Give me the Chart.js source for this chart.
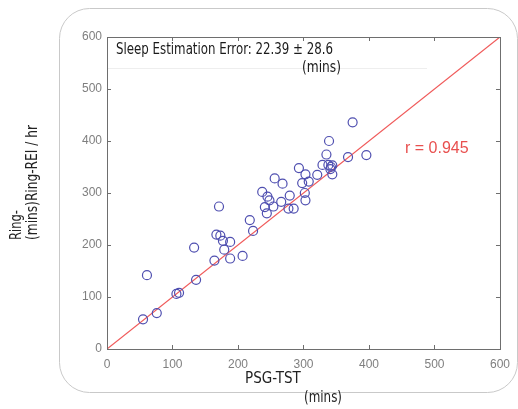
<!DOCTYPE html>
<html>
<head>
<meta charset="utf-8">
<script src="https://cdn.jsdelivr.net/npm/chart.js@4"></script>
<style>
  html, body { margin: 0; padding: 0; background: #fff; }
  #wrap { width: 518px; height: 409px; }
</style>
</head>
<body>
<div id="wrap"><canvas id="tst-chart" width="518" height="409"></canvas></div>
<script>
// PSG total sleep time vs ring estimate (mins)
const psgTST = [55, 76, 106, 110, 61, 136, 133, 164, 171, 167, 173, 177, 188, 179, 188, 207,
  218, 223, 237, 245, 248, 241, 244, 254, 266, 256, 268, 279, 277, 285, 293, 303, 298, 308,
  302, 303, 321, 329, 335, 339, 338, 342, 344, 344, 341, 368, 375, 396];
const ringTST = [57, 69, 106, 108, 142, 133, 195, 170, 274, 220, 218, 208, 206, 191, 174, 179,
  248, 227, 302, 293, 286, 273, 261, 274, 283, 328, 318, 295, 270, 270, 348, 336, 319, 322,
  300, 286, 335, 354, 374, 400, 354, 350, 353, 336, 346, 369, 436, 373];
const identityLine = [0, 600];
const axisTicks = [0, 100, 200, 300, 400, 500, 600];

const titleText = 'Sleep Estimation Error: 22.39 \u00b1 28.6';
const titleUnit = '(mins)';
const rText = 'r = 0.945';
const xTitle = 'PSG-TST';
const yTitle1 = 'Ring-';
const yTitle2 = '(mins)Ring-REI / hr';

const narrow = '"Liberation Sans Narrow", "DejaVu Sans Condensed", sans-serif';

const points = psgTST.map((x, i) => ({ x: x, y: ringTST[i] }));
const linePts = identityLine.map((v) => ({ x: v, y: v }));

function roundRect(ctx, x, y, w, h, r) {
  ctx.beginPath();
  ctx.moveTo(x + r, y);
  ctx.lineTo(x + w - r, y);
  ctx.arcTo(x + w, y, x + w, y + r, r);
  ctx.lineTo(x + w, y + h - r);
  ctx.arcTo(x + w, y + h, x + w - r, y + h, r);
  ctx.lineTo(x + r, y + h);
  ctx.arcTo(x, y + h, x, y + h - r, r);
  ctx.lineTo(x, y + r);
  ctx.arcTo(x, y, x + r, y, r);
  ctx.closePath();
}

// draw left-aligned text squeezed to a given width
function fitText(ctx, text, x, y, width) {
  const w = ctx.measureText(text).width;
  const k = Math.min(1, width / w);
  ctx.save();
  ctx.translate(x, y);
  ctx.scale(k, 1);
  ctx.textAlign = 'left';
  ctx.fillText(text, 0, 0);
  ctx.restore();
}

const decorations = {
  id: 'decorations',
  beforeDraw(chart) {
    const ctx = chart.ctx;
    ctx.save();
    ctx.strokeStyle = '#c9c9c9';
    ctx.lineWidth = 1;
    roundRect(ctx, 59.5, 8.5, 458, 384, 30);
    ctx.stroke();
    ctx.restore();
  },
  afterDatasetsDraw(chart) {
    const ctx = chart.ctx;
    const a = chart.chartArea;
    const xs = chart.scales.x;
    const ys = chart.scales.y;
    ctx.save();

    // faint box behind the error text
    ctx.strokeStyle = '#eeeeee';
    ctx.beginPath();
    ctx.moveTo(a.left, 68.5);
    ctx.lineTo(427, 68.5);
    ctx.stroke();

    // axes box and inward ticks
    ctx.strokeStyle = '#6e6e6e';
    ctx.lineWidth = 1;
    ctx.strokeRect(a.left + 0.5, a.top + 0.5, a.right - a.left, a.bottom - a.top);
    ctx.beginPath();
    axisTicks.forEach((t) => {
      const px = Math.round(xs.getPixelForValue(t)) + 0.5;
      const py = Math.round(ys.getPixelForValue(t)) + 0.5;
      ctx.moveTo(px, a.bottom); ctx.lineTo(px, a.bottom - 4);
      ctx.moveTo(px, a.top); ctx.lineTo(px, a.top + 4);
      ctx.moveTo(a.left, py); ctx.lineTo(a.left + 4, py);
      ctx.moveTo(a.right, py); ctx.lineTo(a.right - 4, py);
    });
    ctx.stroke();

    // error text
    ctx.fillStyle = '#1a1a1a';
    ctx.font = '15px ' + narrow;
    ctx.textBaseline = 'middle';
    fitText(ctx, titleText, 116, 50, 217);
    fitText(ctx, titleUnit, 302, 68, 39);

    // r value
    ctx.fillStyle = '#e8504f';
    ctx.font = '16px "Liberation Sans", Arial, sans-serif';
    ctx.textAlign = 'left';
    ctx.fillText(rText, 405, 149);

    // axis titles
    ctx.fillStyle = '#222';
    ctx.font = '15px ' + narrow;
    fitText(ctx, xTitle, 245, 379, 58);
    fitText(ctx, titleUnit, 304, 398, 38);

    ctx.translate(0, 240);
    ctx.rotate(-Math.PI / 2);
    fitText(ctx, yTitle1, 0, 17, 30);
    fitText(ctx, yTitle2, 0, 33, 115);
    ctx.restore();
  },
};

const tickFont = { family: '"Liberation Sans", Arial, sans-serif', size: 12 };

new Chart(document.getElementById('tst-chart').getContext('2d'), {
  type: 'scatter',
  data: {
    datasets: [
      {
        label: 'Ring vs PSG',
        data: points,
        pointStyle: 'circle',
        pointRadius: 4.5,
        pointBorderWidth: 1.2,
        borderColor: '#4f4fb0',
        backgroundColor: 'rgba(0,0,0,0)',
        order: 1,
      },
      {
        type: 'line',
        label: 'y = x',
        data: linePts,
        borderColor: '#f05a5a',
        borderWidth: 1.2,
        pointRadius: 0,
        fill: false,
        order: 2,
      },
    ],
  },
  options: {
    responsive: false,
    animation: false,
    layout: { padding: { top: 37, right: 14, left: 0, bottom: 0 } },
    plugins: {
      legend: { display: false },
      tooltip: { enabled: false },
    },
    scales: {
      x: {
        type: 'linear',
        min: 0,
        max: 600,
        afterFit: (scale) => { scale.height = 60; },
        afterBuildTicks: (scale) => { scale.ticks = axisTicks.map((v) => ({ value: v })); },
        grid: { display: false, drawTicks: false },
        border: { display: false },
        ticks: { font: tickFont, color: '#7f7f7f', padding: 8, maxRotation: 0 },
      },
      y: {
        type: 'linear',
        min: 0,
        max: 600,
        afterFit: (scale) => { scale.width = 107; },
        afterBuildTicks: (scale) => { scale.ticks = axisTicks.map((v) => ({ value: v })); },
        grid: { display: false, drawTicks: false },
        border: { display: false },
        ticks: { font: tickFont, color: '#7f7f7f', padding: 5 },
      },
    },
  },
  plugins: [decorations],
});
</script>
</body>
</html>
